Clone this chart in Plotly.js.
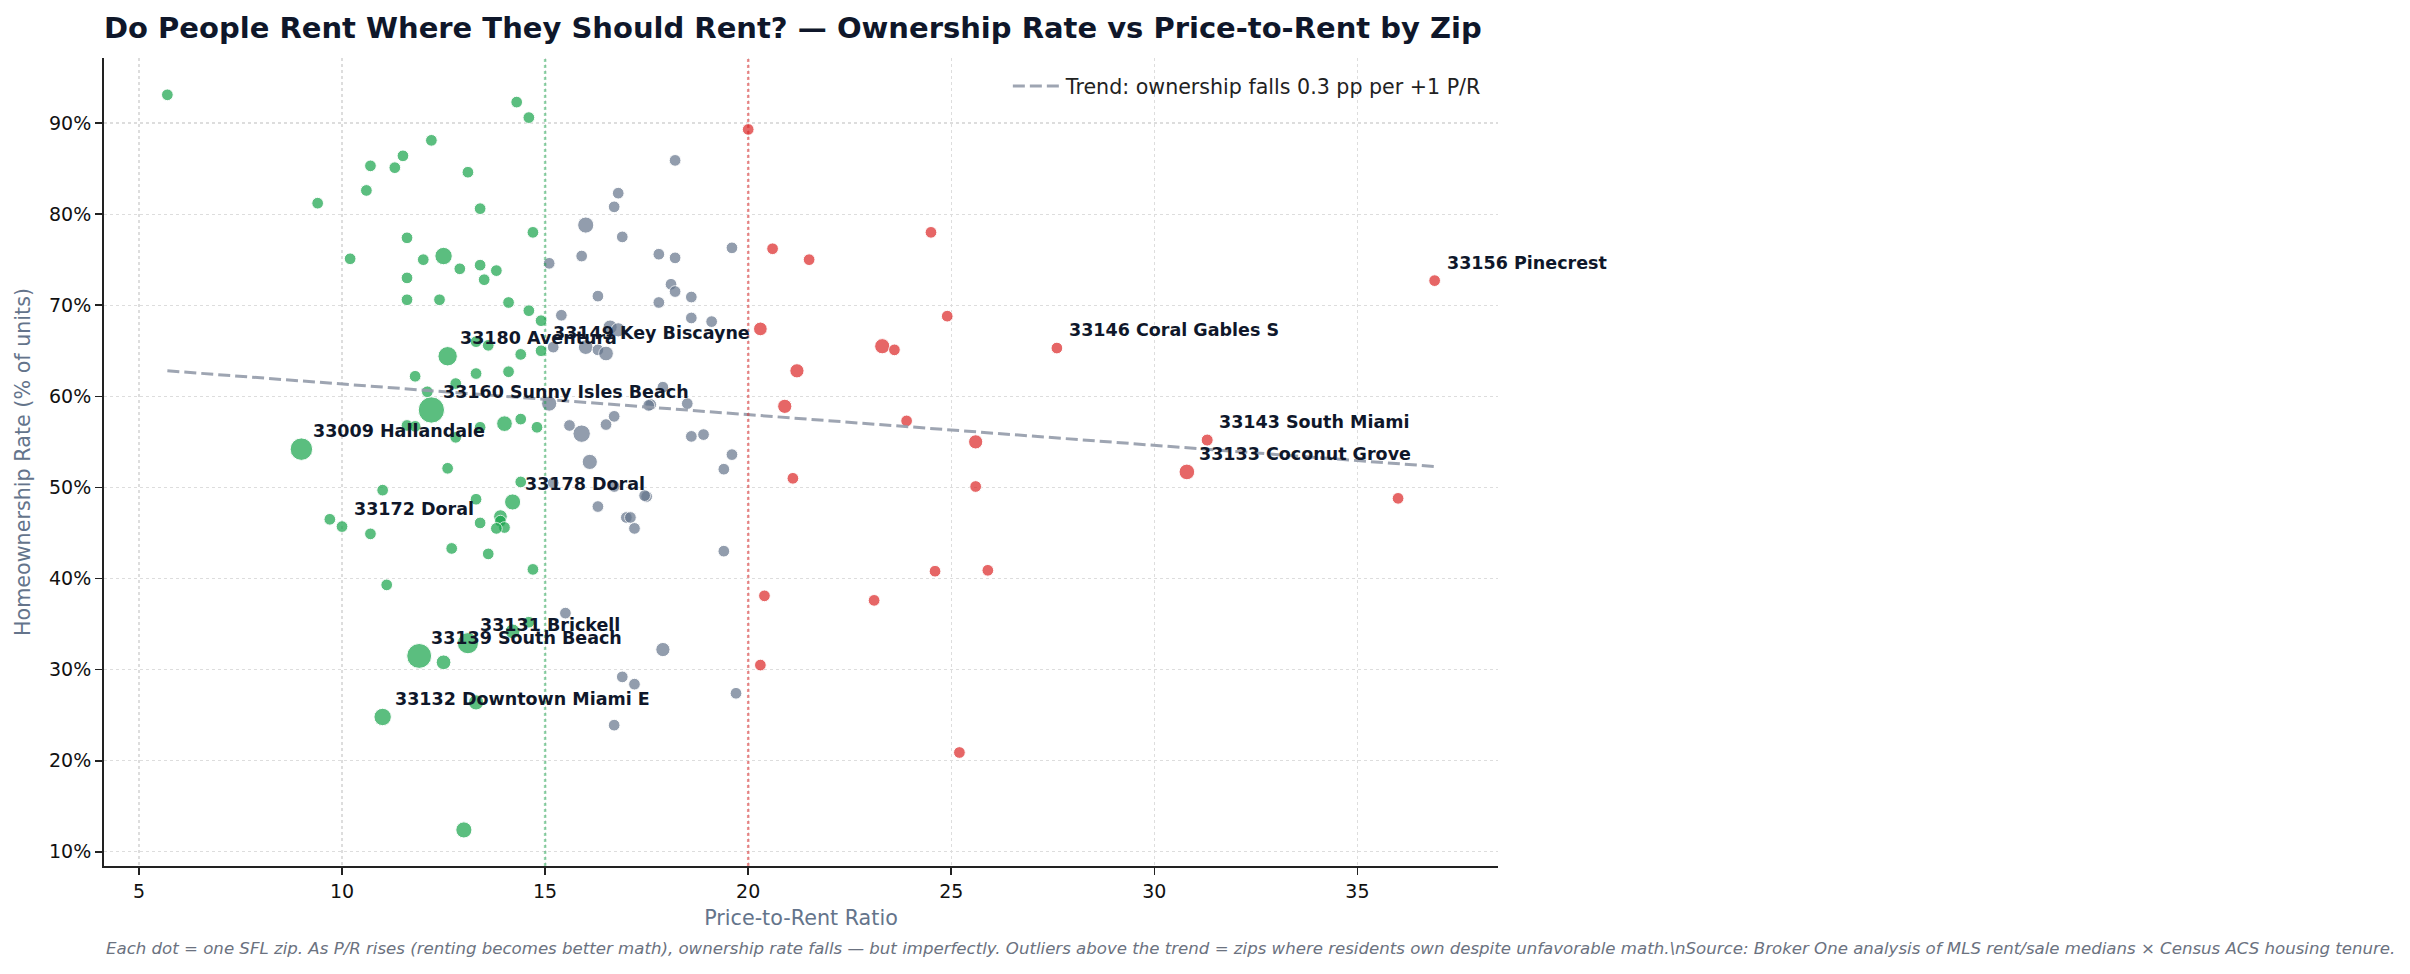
<!DOCTYPE html>
<html>
<head>
<meta charset="utf-8">
<script src="https://cdn.plot.ly/plotly-3.0.1.min.js"></script>
<style>
  html, body { margin: 0; padding: 0; background: #ffffff; }
  #chart { width: 2410px; height: 974px; }
</style>
</head>
<body>
<div id="chart"></div>
<script>
// South Florida zips: price-to-rent ratio, homeownership rate (% of units), housing units (thousands)
const prRatio = [
  5.7, 9.4, 10.6, 10.7, 11.3, 11.5, 12.2, 13.1, 13.4, 14.3, 14.6, 14.7, 11.6, 10.2, 12.0, 12.5,
  12.9, 13.4, 13.8, 13.5, 11.6, 11.6, 12.4, 14.1, 14.6, 14.9, 13.3, 13.6, 14.4, 11.8, 13.3, 14.1,
  12.8, 12.1, 11.6, 11.8, 12.8, 13.4, 14.0, 14.4, 14.8, 12.6, 11.0, 14.4, 13.3, 9.7, 10.7, 13.9,
  13.9, 14.0, 13.8, 13.4, 12.7, 13.6, 14.7, 11.1, 14.6, 14.2, 12.5, 13.3, 13.0,
  18.2, 16.8, 16.7, 16.0, 16.9, 15.9, 17.8, 18.2, 19.6, 15.1, 18.1, 18.2, 16.3, 17.8, 18.6, 15.4,
  18.6, 19.1, 16.6, 16.8, 15.2, 16.0, 16.3, 16.5, 15.1, 15.6, 15.9, 16.5, 16.7, 17.9, 17.6, 17.55,
  18.5, 18.6, 18.9, 19.6, 16.1, 19.4, 15.2, 16.7, 17.5, 17.45, 16.3, 17.0, 17.1, 17.2, 19.4, 15.5,
  17.9, 16.9, 17.2, 19.7, 16.7,
  20.0, 24.5, 20.6, 21.5, 24.9, 20.3, 23.3, 23.6, 21.2, 20.9, 23.9, 25.6, 21.1, 25.6, 36.0, 24.6,
  25.9, 20.4, 23.1, 20.3, 25.2
];
const ownRate = [
  93.1, 81.2, 82.6, 85.3, 85.1, 86.4, 88.1, 84.6, 80.6, 92.3, 90.6, 78.0, 77.4, 75.1, 75.0, 75.4,
  74.0, 74.4, 73.8, 72.8, 73.0, 70.6, 70.6, 70.3, 69.4, 68.3, 66.0, 65.6, 64.6, 62.2, 62.5, 62.7,
  61.4, 60.5, 56.8, 56.7, 55.5, 56.6, 57.0, 57.5, 56.6, 52.1, 49.7, 50.6, 48.7, 46.5, 44.9, 46.8,
  46.3, 45.6, 45.5, 46.1, 43.3, 42.7, 41.0, 39.3, 35.2, 34.2, 30.8, 26.4, 12.4,
  85.9, 82.3, 80.8, 78.8, 77.5, 75.4, 75.6, 75.2, 76.3, 74.6, 72.3, 71.5, 71.0, 70.3, 70.9, 68.9,
  68.6, 68.2, 67.6, 67.3, 65.4, 65.4, 65.1, 64.7, 59.2, 56.8, 55.9, 56.9, 57.8, 61.0, 59.1, 59.0,
  59.2, 55.6, 55.8, 53.6, 52.8, 52.0, 50.5, 50.1, 49.0, 49.1, 47.9, 46.7, 46.7, 45.5, 43.0, 36.2,
  32.2, 29.2, 28.4, 27.4, 23.9,
  89.3, 78.0, 76.2, 75.0, 68.8, 67.4, 65.5, 65.1, 62.8, 58.9, 57.3, 55.0, 51.0, 50.1, 48.8, 40.8,
  40.9, 38.1, 37.6, 30.5, 20.9
];
const unitsK = [
  9.5, 9.5, 9.5, 9.5, 9.5, 9.5, 9.5, 9.5, 9.5, 9.5, 9.5, 9.5, 9.5, 9.5, 9.5, 21,
  9.5, 9.5, 9.5, 9.5, 9.5, 9.5, 9.5, 9.5, 9.5, 9.5, 9.5, 9.5, 9.5, 9.5, 9.5, 9.5,
  9.5, 9.5, 9.5, 9.5, 9.5, 9.5, 17, 9.5, 9.5, 9.5, 9.5, 9.5, 9.5, 9.5, 9.5, 13,
  9.5, 9.5, 9.5, 9.5, 9.5, 9.5, 9.5, 9.5, 9.5, 15, 15, 16, 18,
  9.5, 9.5, 9.5, 18, 9.5, 9.5, 9.5, 9.5, 9.5, 9.5, 9.5, 9.5, 9.5, 9.5, 9.5, 9.5,
  9.5, 9.5, 14, 14, 9.5, 15, 9.5, 15, 16, 9.5, 21, 9.5, 9.5, 9.5, 9.5, 9.5,
  9.5, 9.5, 9.5, 9.5, 16, 9.5, 9.5, 9.5, 9.5, 9.5, 9.5, 9.5, 9.5, 9.5, 9.5, 9.5,
  14, 9.5, 9.5, 9.5, 9.5,
  9.5, 9.5, 9.5, 9.5, 9.5, 13, 16, 9.5, 14, 14, 9.5, 14, 9.5, 9.5, 9.5, 9.5,
  9.5, 9.5, 9.5, 9.5, 9.5
];

// Zips called out by name
const namedZip = [
  '33156 Pinecrest', '33146 Coral Gables S', '33143 South Miami', '33133 Coconut Grove',
  '33149 Key Biscayne', '33180 Aventura', '33160 Sunny Isles Beach', '33009 Hallandale',
  '33178 Doral', '33172 Doral', '33131 Brickell', '33139 South Beach', '33132 Downtown Miami E'
];
const namedPR = [36.9, 27.6, 31.3, 30.8, 14.9, 12.6, 12.2, 9.0, 14.2, 10.0, 13.1, 11.9, 11.0];
const namedOwn = [72.7, 65.3, 55.2, 51.7, 65.0, 64.4, 58.5, 54.2, 48.4, 45.7, 32.9, 31.5, 24.8];
const namedUnitsK = [9.5, 9.5, 10, 17, 9.5, 26, 48, 35, 18, 9.5, 31, 43, 21];

// Fitted trend
const trendPR = [5.7, 36.9];
const trendOwn = [62.8, 52.3];
const trendName = 'Trend: ownership falls 0.3 pp per +1 P/R';

// P/R thresholds: below 15 favours buying, above 20 favours renting
const buyBelow = 15;
const rentAbove = 20;

const xTicks = [5, 10, 15, 20, 25, 30, 35];
const yTicks = [10, 20, 30, 40, 50, 60, 70, 80, 90];

const FONT = 'DejaVu Sans, Verdana, sans-serif';
const bandColor = { buy: '#16a34a', mid: '#64748b', rent: '#dc2626' };
const band = pr => pr < buyBelow ? 'buy' : (pr < rentAbove ? 'mid' : 'rent');
const dotSize = u => 3.8 * Math.sqrt(u);

const allPR = prRatio.concat(namedPR);
const allOwn = ownRate.concat(namedOwn);
const allUnits = unitsK.concat(namedUnitsK);

const traces = ['buy', 'mid', 'rent'].map(key => {
  const idx = allPR.map((v, i) => i).filter(i => band(allPR[i]) === key);
  return {
    type: 'scatter', mode: 'markers', showlegend: false, hoverinfo: 'skip',
    x: idx.map(i => allPR[i]),
    y: idx.map(i => allOwn[i]),
    marker: {
      color: bandColor[key], opacity: 0.7,
      size: idx.map(i => dotSize(allUnits[i])),
      line: { color: '#ffffff', width: 1 }
    }
  };
});

traces.push({
  type: 'scatter', mode: 'lines', name: trendName,
  x: trendPR, y: trendOwn,
  line: { color: 'rgba(148,155,170,0.9)', width: 3, dash: '12px,5px' },
  hoverinfo: 'skip'
});

const annotations = namedZip.map((name, i) => ({
  x: namedPR[i], y: namedOwn[i], xref: 'x', yref: 'y',
  text: name, showarrow: false, xanchor: 'left', yanchor: 'bottom',
  xshift: 10, yshift: 6,
  font: { family: FONT, size: 17.5, color: '#0f172a', weight: 'bold' }
}));

annotations.push({
  xref: 'paper', yref: 'paper', x: 0, y: -0.1015, xanchor: 'left', yanchor: 'middle',
  showarrow: false,
  text: 'Each dot = one SFL zip. As P/R rises (renting becomes better math), ownership rate falls \u2014 but imperfectly. Outliers above the trend = zips where residents own despite unfavorable math.\\nSource: Broker One analysis of MLS rent/sale medians \u00d7 Census ACS housing tenure.',
  font: { family: FONT, size: 16.6, color: '#6b7280', style: 'italic' }
});

const layout = {
  width: 2410, height: 974,
  margin: { l: 104, r: 912, t: 58, b: 108 },
  paper_bgcolor: '#ffffff', plot_bgcolor: '#ffffff',
  font: { family: FONT, color: '#222222' },
  title: {
    text: 'Do People Rent Where They Should Rent? \u2014 Ownership Rate vs Price-to-Rent by Zip',
    x: 104 / 2410, xanchor: 'left', xref: 'container',
    y: 1 - 28 / 974, yanchor: 'middle', yref: 'container',
    font: { family: FONT, size: 29, color: '#0f172a', weight: 'bold' }
  },
  xaxis: {
    range: [4.14, 38.46], tickmode: 'array', tickvals: xTicks, ticktext: xTicks.map(String),
    ticks: 'outside', ticklen: 7, tickwidth: 1.6,
    tickcolor: '#222222', showline: true, linecolor: '#222222', linewidth: 2,
    showgrid: true, gridcolor: '#dddddd', griddash: 'dot', gridwidth: 1.2, zeroline: false,
    tickfont: { family: FONT, size: 19, color: '#111111' },
    title: { text: 'Price-to-Rent Ratio', standoff: 10, font: { family: FONT, size: 20.7, color: '#64748b' } }
  },
  yaxis: {
    range: [8.44, 97.14], tickmode: 'array', tickvals: yTicks, ticktext: yTicks.map(v => v + '%'),
    ticks: 'outside', ticklen: 7, tickwidth: 1.6,
    tickcolor: '#222222', showline: true, linecolor: '#222222', linewidth: 2,
    showgrid: true, gridcolor: '#dddddd', griddash: 'dot', gridwidth: 1.2, zeroline: false,
    tickfont: { family: FONT, size: 19, color: '#111111' },
    title: { text: 'Homeownership Rate (% of units)', standoff: 13, font: { family: FONT, size: 20.7, color: '#64748b' } }
  },
  shapes: [
    { type: 'line', xref: 'x', yref: 'paper', x0: buyBelow, x1: buyBelow, y0: 0, y1: 1, layer: 'above',
      line: { color: 'rgba(22,163,74,0.45)', width: 2.5, dash: 'dot' } },
    { type: 'line', xref: 'x', yref: 'paper', x0: rentAbove, x1: rentAbove, y0: 0, y1: 1, layer: 'above',
      line: { color: 'rgba(220,38,38,0.5)', width: 2.5, dash: 'dot' } }
  ],
  legend: {
    x: 0.992, xanchor: 'right', y: 0.99, yanchor: 'top', itemwidth: 48,
    bgcolor: 'rgba(0,0,0,0)', font: { family: FONT, size: 20.6, color: '#222222' }
  },
  annotations: annotations,
  showlegend: true
};

Plotly.newPlot('chart', traces, layout, { displayModeBar: false, staticPlot: true });
</script>
</body>
</html>
